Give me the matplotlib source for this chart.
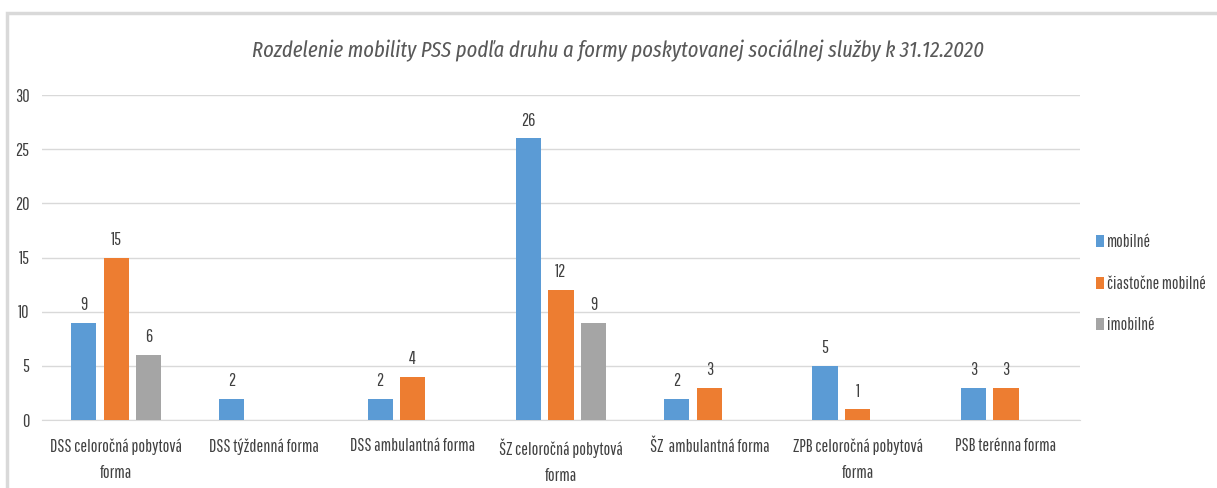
import numpy as np
import matplotlib.pyplot as plt
from matplotlib.patches import Rectangle

plt.rcParams["font.family"] = ["Pathway Gothic One", "PT Sans Narrow", "DejaVu Sans"]

categories = ["DSS celoročná pobytová\nforma", "DSS týždenná forma", "DSS ambulantná forma",
              "ŠZ celoročná pobytová\nforma", "ŠZ  ambulantná forma",
              "ZPB celoročná pobytová\nforma", "PSB terénna forma"]
mobilne = [9, 2, 2, 26, 2, 5, 3]
ciastocne = [15, np.nan, 4, 12, 3, 1, 3]
imobilne = [6, np.nan, np.nan, 9, np.nan, np.nan, np.nan]

series = [("mobilné", mobilne, "#5B9BD5"),
          ("čiastočne mobilné", ciastocne, "#ED7D31"),
          ("imobilné", imobilne, "#A5A5A5")]

fig = plt.figure(figsize=(12.17, 4.88), dpi=100)
ax = fig.add_axes([0.0345, 0.139, 0.853, 0.666])

x = np.arange(len(categories))
w = 0.17
step = 0.22
for i, (lab, vals, col) in enumerate(series):
    pos = x + (i - 1) * step
    ax.bar(pos, vals, width=w, color=col, label=lab, zorder=3)
    for p, v in zip(pos, vals):
        if not np.isnan(v):
            ax.annotate(f"{v:g}", (p, v), xytext=(0, 7), textcoords="offset points",
                        ha="center", va="bottom", fontsize=13, color="#404040")

ax.set_xlim(-0.5, len(categories) - 0.5)
ax.set_ylim(0, 30)
ax.set_yticks(range(0, 31, 5))
ax.yaxis.grid(True, color="#D9D9D9", linewidth=1, zorder=0)
for s in ["top", "right", "left"]:
    ax.spines[s].set_visible(False)
ax.spines["bottom"].set_color("#D9D9D9")
ax.tick_params(axis="both", length=0, labelsize=13, labelcolor="#404040")
ax.tick_params(axis="x", pad=13)
ax.tick_params(axis="y", pad=9)
ax.set_xticks(x)
ax.set_xticklabels(categories, linespacing=1.75)

fig.text(0.508, 0.897, "Rozdelenie mobility PSS podľa druhu a formy poskytovanej sociálnej služby k 31.12.2020",
         ha="center", va="center", fontsize=16, style="italic", color="#595959",
         family=["Fira Sans Extra Condensed", "DejaVu Sans"])

leg = ax.legend(loc="center left", bbox_to_anchor=(1.0, 0.42), frameon=False, fontsize=12.5,
                handlelength=0.45, handleheight=0.7, handletextpad=0.2, labelspacing=1.45)
for t in leg.get_texts():
    t.set_color("#404040")

fig.patches.append(Rectangle((7 / 1217, -0.1), 1.2, 1 - 13 / 488 + 0.1, transform=fig.transFigure,
                             fill=False, edgecolor="#D9D9D9", linewidth=2.5))

fig.savefig("out.png", dpi=100)
